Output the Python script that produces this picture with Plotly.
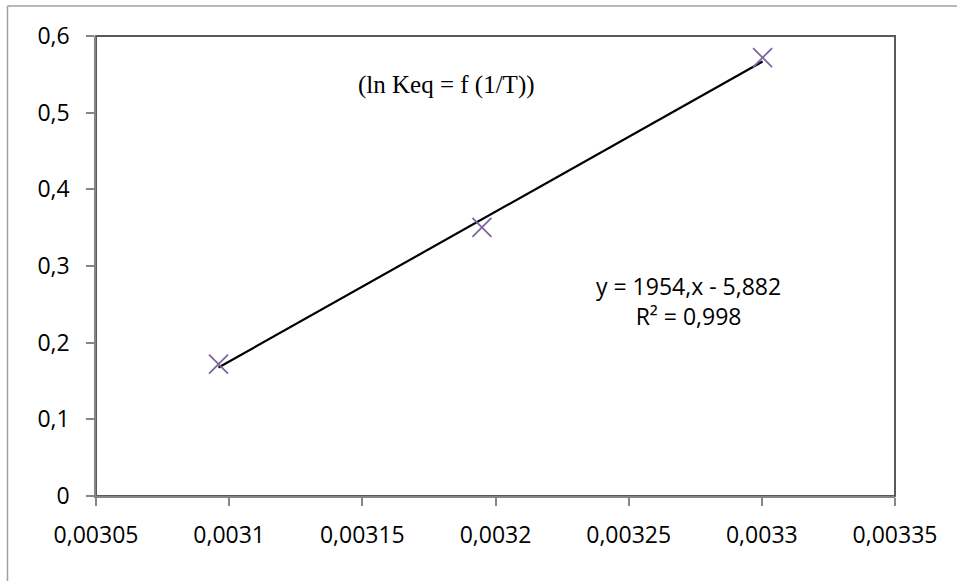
import plotly.graph_objects as go

# Data
inv_T = [0.003096, 0.0031949, 0.0033003]
ln_keq = [0.172, 0.3505, 0.5717]
slope = 1954.0
intercept = -5.882
eq_text = "y = 1954,x - 5,882<br>R² = 0,998"
title_text = "(ln Keq = f (1/T))"
x_ticks = [0.00305, 0.0031, 0.00315, 0.0032, 0.00325, 0.0033, 0.00335]
x_labels = ["0,00305", "0,0031", "0,00315", "0,0032", "0,00325", "0,0033", "0,00335"]
y_ticks = [0, 0.1, 0.2, 0.3, 0.4, 0.5, 0.6]
y_labels = ["0", "0,1", "0,2", "0,3", "0,4", "0,5", "0,6"]

trend_x = [inv_T[0], inv_T[-1]]
trend_y = [slope * v + intercept for v in trend_x]

W, H = 957, 581
L, R, T, B = 96, 895, 36, 496

fig = go.Figure()
fig.add_trace(go.Scatter(x=trend_x, y=trend_y, mode="lines",
                         line=dict(color="black", width=2.2), hoverinfo="skip"))
fig.add_trace(go.Scatter(x=inv_T, y=ln_keq, mode="markers",
                         marker=dict(symbol="x-thin", size=19,
                                     line=dict(color="#8064A2", width=1.8))))

def px2x(p):
    return (p - L) / (R - L)

def py2y(p):
    return (B - p) / (B - T)

shapes = [
    dict(type="rect", xref="paper", yref="paper", x0=0, y0=0, x1=1, y1=1,
         line=dict(color="#595959", width=2), layer="below"),
    dict(type="line", xref="paper", yref="paper", x0=px2x(7.5), x1=px2x(7.5),
         y0=py2y(590), y1=py2y(6), line=dict(color="#A0A0A0", width=1.5)),
    dict(type="line", xref="paper", yref="paper", x0=px2x(7.5), x1=px2x(970),
         y0=py2y(6), y1=py2y(6), line=dict(color="#A0A0A0", width=1.5)),
]

fig.update_layout(
    width=W, height=H,
    margin=dict(l=L, r=W - R, t=T, b=H - B),
    paper_bgcolor="white", plot_bgcolor="white",
    showlegend=False,
    font=dict(family="Open Sans", size=23, color="black"),
    shapes=shapes,
    annotations=[
        dict(text=title_text, x=px2x(446), y=py2y(85), xref="paper", yref="paper",
             xanchor="center", yanchor="middle",
             showarrow=False, font=dict(family="Liberation Serif", size=25, color="black")),
        dict(text=eq_text, x=px2x(688), y=py2y(301), xref="paper", yref="paper",
             xanchor="center", yanchor="middle",
             showarrow=False, align="center",
             font=dict(family="Open Sans", size=23, color="black")),
    ],
)
fig.update_xaxes(range=[0.00305, 0.00335], tickvals=x_ticks, ticktext=x_labels,
                 showgrid=False, zeroline=False, showline=True, linecolor="#868686",
                 linewidth=1.5, ticks="outside", ticklen=8, tickcolor="#868686",
                 tickwidth=1.5, ticklabelstandoff=10)
fig.update_yaxes(range=[0, 0.6], tickvals=y_ticks, ticktext=y_labels,
                 showgrid=False, zeroline=False, showline=True, linecolor="#868686",
                 linewidth=1.5, ticks="outside", ticklen=8, tickcolor="#868686",
                 tickwidth=1.5, ticklabelstandoff=12)

fig.write_html("out.html", config={"displayModeBar": False},
               post_script="document.body.style.margin='0';")
